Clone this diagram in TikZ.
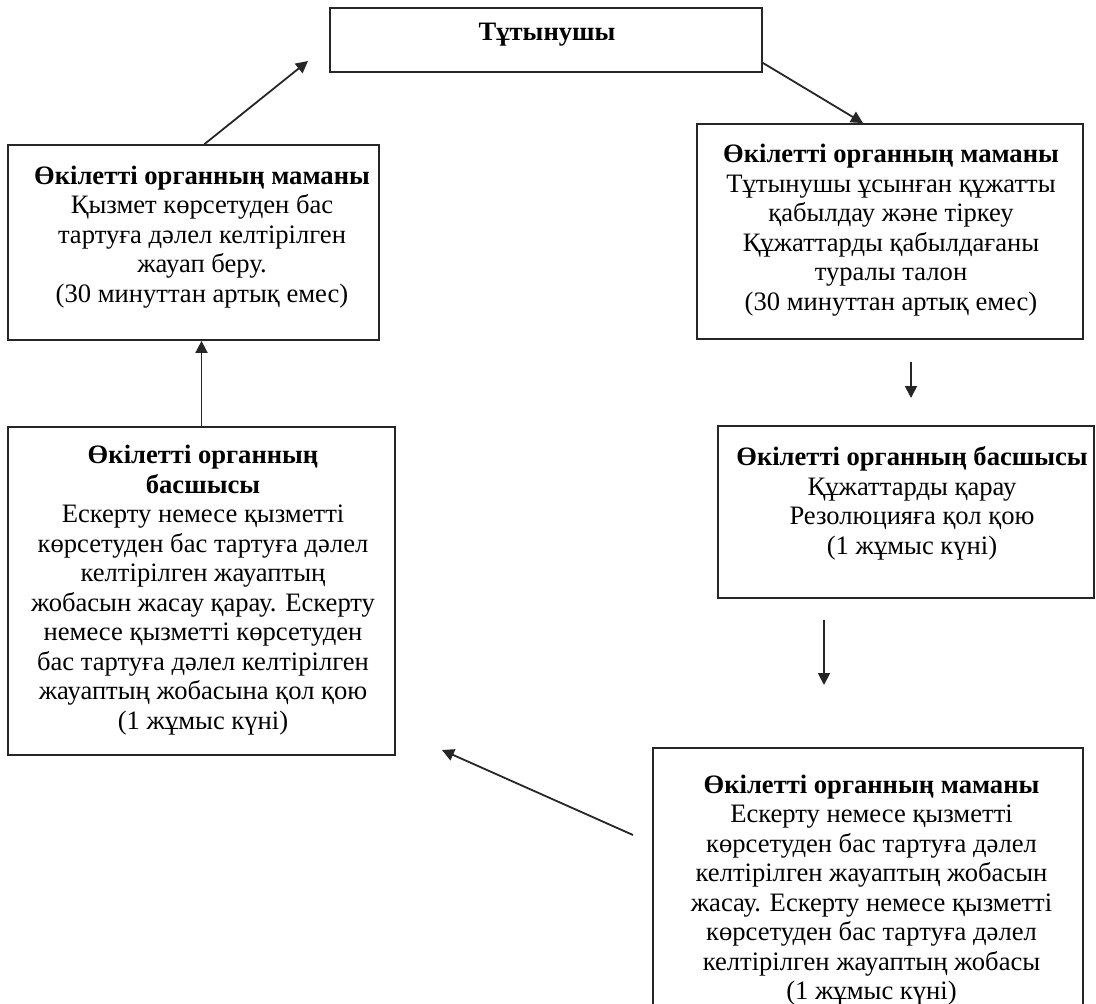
\documentclass[tikz,border=0pt]{standalone}
\usepackage{fontspec}
\setmainfont{Liberation Serif}
\usetikzlibrary{arrows.meta,calc}
\begin{document}
\begin{tikzpicture}[x=1pt,y=-1pt,
  box/.style={draw=black!85,line width=1.8pt,rectangle,inner sep=0pt},
  txt/.style={align=center,inner sep=0pt,font=\fontsize{26.6}{29.5}\selectfont},
  arr/.style={draw=black!85,line width=1.8pt,-{Triangle[length=12pt,width=12pt]}}]
\useasboundingbox (0,0) rectangle (1096,1004);
% boxes
\node[box,minimum width=432pt,minimum height=64pt] (top) at (546,40) {};
\node[box,minimum width=371pt,minimum height=195pt] (blt) at (193.5,242.5) {};
\node[box,minimum width=386pt,minimum height=215pt] (brt) at (890,231.5) {};
\node[box,minimum width=376pt,minimum height=172pt] (brm) at (906,512) {};
\node[box,minimum width=387pt,minimum height=328pt] (blb) at (201.5,591) {};
\node[box,minimum width=430pt,minimum height=270pt] (brb) at (868,883) {};
% texts
\node[txt] (ttop) at (547,35) {\textbf{Тұтынушы}};
\node[txt] (tlt) at (202,237) {\textbf{Өкілетті органның маманы}\\
Қызмет көрсетуден бас\\
тартуға дәлел келтірілген\\
жауап беру.\\
(30 минуттан артық емес)};
\node[txt] (trt) at (891,230) {\textbf{Өкілетті органның маманы}\\
Тұтынушы ұсынған құжатты\\
қабылдау және тіркеу\\
Құжаттарды қабылдағаны\\
туралы талон\\
(30 минуттан артық емес)};
\node[txt] (trm) at (912,503.5) {\textbf{Өкілетті органның басшысы}\\
Құжаттарды қарау\\
Резолюцияға қол қою\\
(1 жұмыс күні)};
\node[txt] (tlb) at (203,590) {\textbf{Өкілетті органның}\\
\textbf{басшысы}\\
Ескерту немесе қызметті\\
көрсетуден бас тартуға дәлел\\
келтірілген жауаптың\\
жобасын жасау қарау. Ескерту\\
немесе қызметті көрсетуден\\
бас тартуға дәлел келтірілген\\
жауаптың жобасына қол қою\\
(1 жұмыс күні)};
\node[txt] (trb) at (871.5,890) {\textbf{Өкілетті органның маманы}\\
Ескерту немесе қызметті\\
көрсетуден бас тартуға дәлел\\
келтірілген жауаптың жобасын\\
жасау. Ескерту немесе қызметті\\
көрсетуден бас тартуға дәлел\\
келтірілген жауаптың жобасы\\
(1 жұмыс күні)};
% free arrow ends
\coordinate (e1) at (308,61);
\coordinate (s3) at (911,362);
\coordinate (e3) at (911,398);
\coordinate (s4) at (824,620);
\coordinate (e4) at (824,685);
\coordinate (s6) at (633,835);
\coordinate (e6) at (442,750);
% connectors
\draw[arr] ($(blt.north)+(11,0)$) -- (e1);
\draw[arr] ($(top.south east)+(0,-10)$) -- ($(brt.north)+(-27,0)$);
\draw[arr] (s3) -- (e3);
\draw[arr] (s4) -- (e4);
\draw[arr] (blb.north) -- (blb.north |- blt.south);
\draw[arr] (s6) -- (e6);
\end{tikzpicture}
\end{document}
